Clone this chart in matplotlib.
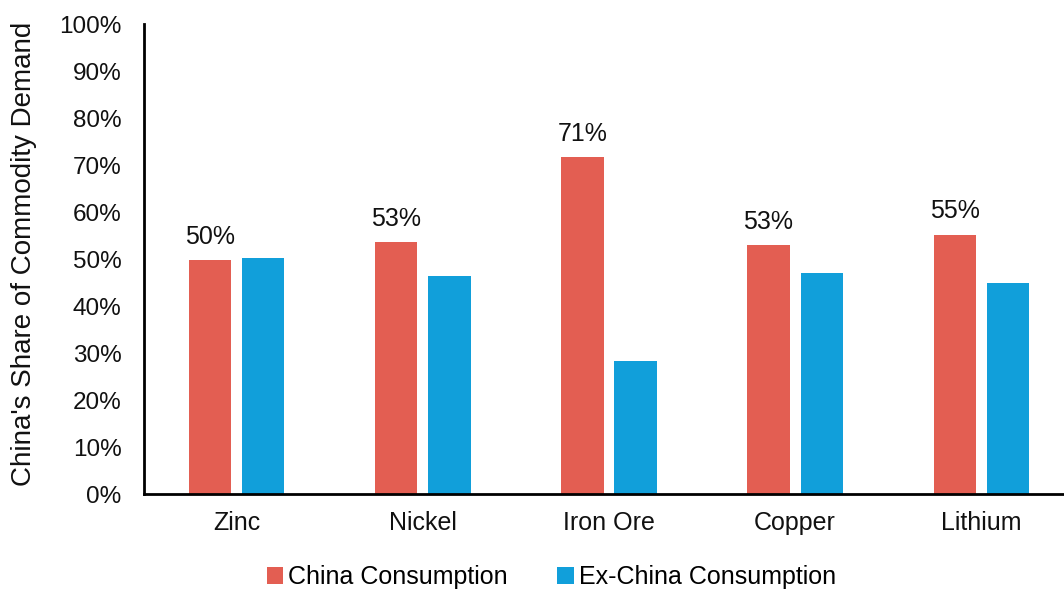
import numpy as np
import matplotlib
matplotlib.use('Agg')
import matplotlib.pyplot as plt
from matplotlib.ticker import FuncFormatter

# Data
commodities = ['Zinc', 'Nickel', 'Iron Ore', 'Copper', 'Lithium']
china = [49.7, 53.6, 71.6, 53.0, 55.2]
ex_china = [50.3, 46.4, 28.4, 47.0, 44.8]
china_labels = ['50%', '53%', '71%', '53%', '55%']

red = '#E35E52'
blue = '#119FDA'

plt.rcParams['font.family'] = ['Liberation Sans', 'DejaVu Sans']

fig = plt.figure(figsize=(10.64, 5.90), dpi=100)
ax = fig.add_axes([0.1353, 0.1627, 0.8647, 0.7966])

x = np.arange(len(commodities))
w = 0.226
off = 0.1425
bars_c = ax.bar(x - off, china, w, color=red, label='China Consumption')
bars_e = ax.bar(x + off, ex_china, w, color=blue, label='Ex-China Consumption')

for b, lab in zip(bars_c, china_labels):
    ax.text(b.get_x() + b.get_width() / 2, b.get_height() + 2.4, lab,
            ha='center', va='bottom', fontsize=18, color='#111111')

ax.set_xlim(-0.5, 4.446)
ax.set_ylim(0, 100)
ax.set_yticks(np.arange(0, 101, 10))
ax.yaxis.set_major_formatter(FuncFormatter(lambda v, p: f'{v:.0f}%'))
ax.set_xticks(x)
ax.set_xticklabels(commodities)
ax.tick_params(axis='both', length=0, colors='#111111')
ax.tick_params(axis='y', pad=16, labelsize=17.5)
ax.tick_params(axis='x', pad=12, labelsize=18)

for s in ['top', 'right']:
    ax.spines[s].set_visible(False)
for s in ['left', 'bottom']:
    ax.spines[s].set_linewidth(2)
    ax.spines[s].set_color('black')

ax.set_ylabel("China's Share of Commodity Demand", fontsize=20, color='#111111')
ax.yaxis.set_label_coords(-0.116, 0.51)

fig.legend(loc='center', bbox_to_anchor=(0.518, 13 / 590), ncol=2, frameon=False,
           fontsize=18, handlelength=0.65, handleheight=0.65, handletextpad=0.2,
           columnspacing=2.0)

fig.savefig('out.png', dpi=100)
